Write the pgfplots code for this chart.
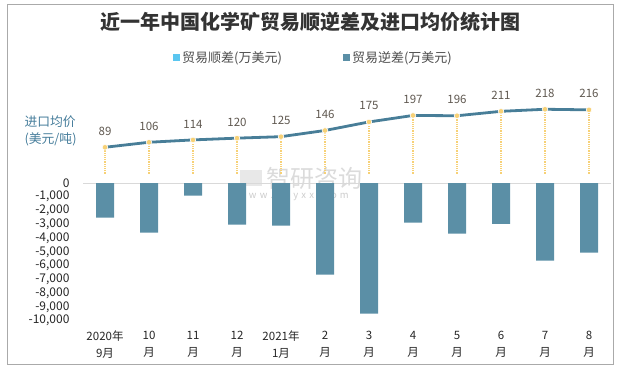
\documentclass[border=0pt]{standalone}
\usepackage{pgfplots}
\pgfplotsset{compat=1.18}
\usepackage{fontspec}
\setmainfont{Noto Sans CJK SC}
\definecolor{barc}{RGB}{91,143,166}
\definecolor{posc}{RGB}{90,198,240}
\definecolor{linec}{RGB}{72,126,152}
\definecolor{mk}{RGB}{247,209,118}
\definecolor{lbl}{RGB}{95,88,80}
\definecolor{framec}{RGB}{170,170,170}
\definecolor{ylab}{RGB}{70,125,155}
\begin{document}
\begin{tikzpicture}
\path (0pt,0pt) rectangle (617pt,370pt);
\draw[framec, line width=0.8pt] (7pt,6pt) rectangle (613pt,366pt);
\node[font=\fontsize{20}{23}\selectfont\bfseries, text=black!80] at (310pt,348pt) {近一年中国化学矿贸易顺逆差及进口均价统计图};
\node[anchor=west, align=left, font=\fontsize{12.8}{17}\selectfont, text=ylab] at (21pt,239pt) {进口均价\\(美元/吨)};
% watermark
\node[text=gray!28, font=\fontsize{24}{24}\selectfont, anchor=west, inner sep=0pt] at (266pt,192pt) {智研咨询};
\node[text=gray!40, font=\fontsize{9.5}{10}\selectfont, anchor=west, inner sep=0pt] at (238pt,174pt) {w\,\,w\,\,w\,\,.\,\,c\,\,h\,\,y\,\,x\,\,x\,\,.\,\,c\,\,o\,\,m};
\fill[gray!18] (240pt,184pt) rectangle (262pt,200pt);
\begin{axis}[at={(83pt,49.3pt)}, anchor=south west, scale only axis,
  width=528pt, height=137.7pt,
  xmin=-0.5, xmax=11.5, ymin=-10000, ymax=0,
  axis line style={draw=none}, tick style={draw=none},
  scaled y ticks=false,
  ytick={-10000,-9000,...,0},
  yticklabels={{-10,000},{-9,000},{-8,000},{-7,000},{-6,000},{-5,000},{-4,000},{-3,000},{-2,000},{-1,000},{0}},
  yticklabel style={font=\fontsize{12}{13}\selectfont, text=black!85, xshift=-10pt},
  xtick={0,...,11},
  xticklabels={{2020年\\9月},{10\\月},{11\\月},{12\\月},{2021年\\1月},{2\\月},{3\\月},{4\\月},{5\\月},{6\\月},{7\\月},{8\\月}},
  xticklabel style={align=center, font=\fontsize{11.5}{17}\selectfont, text=black!85, yshift=-7pt},
  legend columns=2,
  legend style={at={(0.4366,1.908)}, anchor=center, draw=none, fill=none,
    font=\fontsize{13}{14}\selectfont, text=black!70,
    /tikz/every even column/.append style={column sep=59pt}},
  clip=false]
\draw[gray!30, line width=0.8pt] (axis cs:-0.5,0) -- (axis cs:11.5,0);
\addlegendimage{fill=posc, draw=none, legend image code/.code={\fill[posc] (0pt,-3.5pt) rectangle (7pt,3.5pt);}}
\addlegendentry{贸易顺差(万美元)}
\addplot[ybar, bar width=18pt, fill=barc, draw=none,
  legend image code/.code={\fill[barc] (0pt,-3.5pt) rectangle (7pt,3.5pt);}]
  coordinates {(0,-2520) (1,-3610) (2,-920) (3,-3030) (4,-3100) (5,-6660) (6,-9490) (7,-2880) (8,-3680) (9,-2960) (10,-5640) (11,-5060)};
\addlegendentry{贸易逆差(万美元)}
\end{axis}
\begin{axis}[at={(83pt,196.5pt)}, anchor=south west, scale only axis,
  width=528pt, height=88.4pt,
  xmin=-0.5, xmax=11.5, ymin=0, ymax=300, hide axis, clip=false,
  /pgf/number format/assume math mode=true]
\addplot[ycomb, mk, densely dotted, line width=1.2pt] coordinates {(0,89) (1,106) (2,114) (3,120) (4,125) (5,146) (6,175) (7,197) (8,196) (9,211) (10,218) (11,216)};
\addplot[linec, line width=2.8pt, mark=none] coordinates {(0,89) (1,106) (2,114) (3,120) (4,125) (5,146) (6,175) (7,197) (8,196) (9,211) (10,218) (11,216)};
\addplot[only marks, mark=*, mark size=2.8pt, mark options={fill=mk, draw=white, line width=0.6pt},
  nodes near coords,
  every node near coord/.append style={anchor=center, yshift=16pt, font=\fontsize{11.5}{13}\selectfont, text=lbl}]
  coordinates {(0,89) (1,106) (2,114) (3,120) (4,125) (5,146) (6,175) (7,197) (8,196) (9,211) (10,218) (11,216)};
\end{axis}
\end{tikzpicture}
\end{document}
